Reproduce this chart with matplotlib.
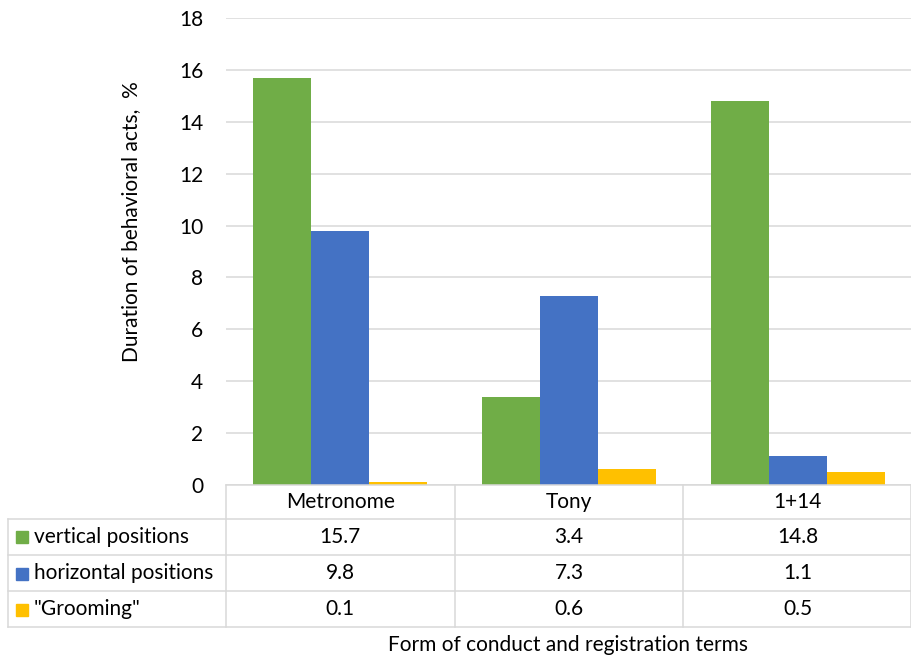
import matplotlib
matplotlib.use("Agg")
import matplotlib.pyplot as plt
import numpy as np

plt.rcParams['font.family'] = ['Lato', 'DejaVu Sans']

categories = ["Metronome", "Tony", "1+14"]
series_names = ["vertical positions", "horizontal positions", "\"Grooming\""]
vertical = [15.7, 3.4, 14.8]
horizontal = [9.8, 7.3, 1.1]
grooming = [0.1, 0.6, 0.5]
series_values = [vertical, horizontal, grooming]
colors = ["#70AD47", "#4472C4", "#FFC000"]
y_ticks = [0, 2, 4, 6, 8, 10, 12, 14, 16, 18]

W, H = 912, 656
fig = plt.figure(figsize=(W / 100, H / 100), dpi=100)

# plot area in pixel coordinates
px_l, px_r, px_t, px_b = 226, 912, 18, 485
ax = fig.add_axes([px_l / W, 1 - px_b / H, (px_r - px_l) / W, (px_b - px_t) / H])

x = np.arange(len(categories))
bw = 0.254
for i, (vals, c) in enumerate(zip(series_values, colors)):
    ax.bar(x + (i - 1) * bw, vals, width=bw, color=c, zorder=3)

fs = 15
ax.set_xlim(-0.5, len(categories) - 0.5)
ax.set_ylim(0, 18)
ax.set_yticks(y_ticks)
ax.set_yticklabels([str(t) for t in y_ticks], fontsize=fs)
ax.tick_params(axis='y', length=0, pad=16.5)
ax.set_xticks([])
ax.grid(axis='y', color='#d9d9d9', linewidth=1.1, zorder=0)
for s in ax.spines.values():
    s.set_visible(False)
ax.set_ylabel("Duration of behavioral acts,  %", fontsize=fs)
ax.yaxis.set_label_coords(-(226 - 141) / (px_r - px_l), (px_b - 222) / (px_b - px_t))

# data table below the plot, in pixel coordinates
tab = fig.add_axes([0, 0, 1, 1])
tab.set_xlim(0, W)
tab.set_ylim(H, 0)
tab.axis('off')
lc = '#d9d9d9'
lw = 1.1
col_w = (px_r - px_l) / len(categories)
col_edges = [px_l + k * col_w for k in range(len(categories) + 1)]
row_edges = [485, 518.5, 555, 591, 627]
left = 8

# horizontal lines
tab.plot([px_l, px_r], [row_edges[0]] * 2, color=lc, lw=lw)
for yv in row_edges[1:]:
    tab.plot([left, px_r - 1], [yv] * 2, color=lc, lw=lw)
# vertical lines
tab.plot([left, left], [row_edges[1], row_edges[-1]], color=lc, lw=lw)
for k, xe in enumerate(col_edges):
    xe = min(xe, px_r - 1)
    tab.plot([xe, xe], [row_edges[0], row_edges[-1]], color=lc, lw=lw)

for k, cat in enumerate(categories):
    cx = (col_edges[k] + col_edges[k + 1]) / 2
    tab.text(cx, (row_edges[0] + row_edges[1]) / 2, cat, ha='center', va='center', fontsize=fs)
for r, (name, vals, c) in enumerate(zip(series_names, series_values, colors)):
    cy = (row_edges[r + 1] + row_edges[r + 2]) / 2
    tab.add_patch(plt.Rectangle((16, cy - 5.5), 12, 12, color=c))
    tab.text(34, cy, name, ha='left', va='center', fontsize=fs)
    for k, v in enumerate(vals):
        cx = (col_edges[k] + col_edges[k + 1]) / 2
        tab.text(cx, cy, f"{v:.1f}", ha='center', va='center', fontsize=fs)

tab.text(568, 645, "Form of conduct and registration terms", ha='center', va='center', fontsize=fs)

fig.savefig("out.png", dpi=100)
